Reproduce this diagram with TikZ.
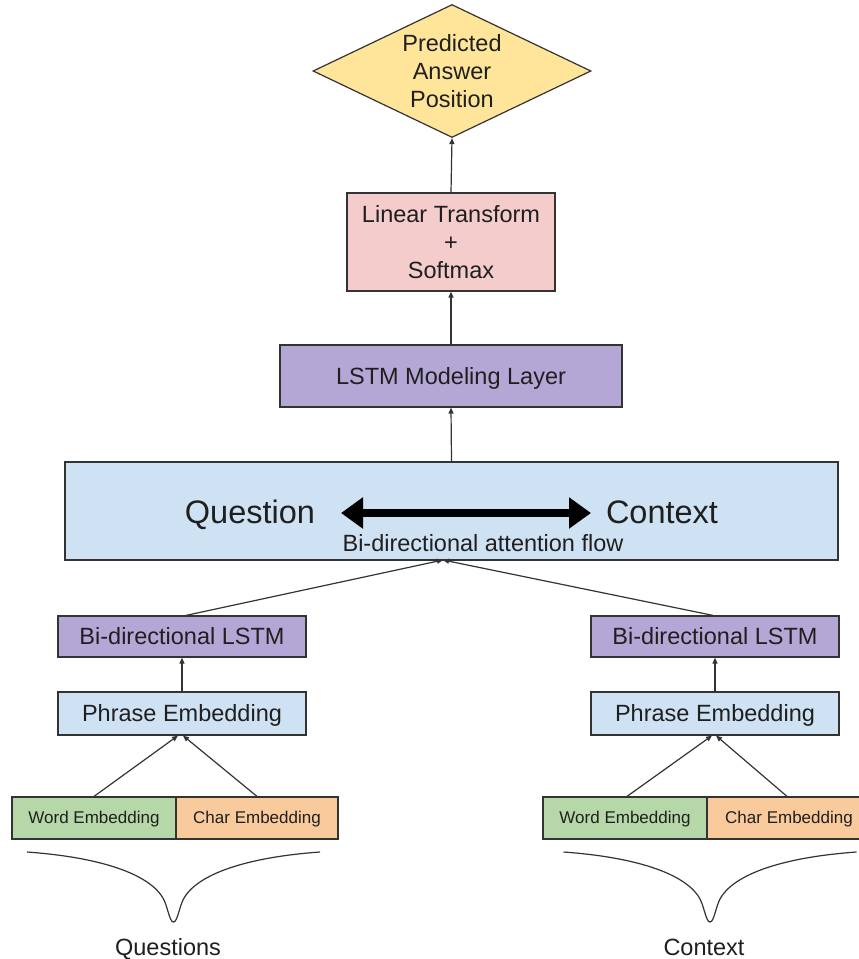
\documentclass[tikz,border=0pt]{standalone}
\usepackage{fontspec}
\setmainfont{Liberation Sans}
\usetikzlibrary{shapes.geometric,arrows.meta}
\definecolor{ink}{HTML}{1F1F1F}
\definecolor{edge}{HTML}{333333}
\definecolor{yel}{HTML}{FFE599}
\definecolor{pinkish}{HTML}{F4CCCC}
\definecolor{purp}{HTML}{B4A7D6}
\definecolor{lblue}{HTML}{CFE2F3}
\definecolor{grn}{HTML}{B6D7A8}
\definecolor{orng}{HTML}{F9CB9C}
\begin{document}
\begin{tikzpicture}[x=1pt,y=-1pt,
  box/.style={draw=edge,line width=1.2pt,inner sep=0pt,text=ink,align=center},
  mainf/.style={font=\fontsize{23.5}{28}\selectfont},
  slm/.style={mainf,text height=21.3pt,text depth=5pt},
  sls/.style={font=\fontsize{17}{20}\selectfont,text height=15.4pt,text depth=3.6pt},
  slb/.style={font=\fontsize{32.5}{38}\selectfont,text height=29.4pt,text depth=6.9pt},
  conn/.style={draw=edge,line width=1.2pt,-{Triangle[length=6pt,width=5pt]}},
  bracepath/.style={draw=edge,line width=1.2pt},
]
\clip (0,0) rectangle (859,959);
\fill[white] (0,0) rectangle (859,959);

% top column
\node[box,mainf,diamond,fill=yel,minimum width=278pt,minimum height=133pt,aspect=2.09] (pred) at (452,71) {Predicted\\Answer\\Position};
\node[box,mainf,fill=pinkish,minimum width=208pt,minimum height=98pt] (lt) at (451,242) {Linear Transform\\+\\Softmax};
\node[box,slm,fill=purp,minimum width=342pt,minimum height=62pt] (lstm) at (451,376) {LSTM Modeling Layer};
\node[box,fill=lblue,minimum width=773pt,minimum height=98pt] (att) at (451.5,511) {};
\node[slb,text=ink,inner sep=0pt] (qtext) at (250,512) {Question};
\node[slb,text=ink,inner sep=0pt] (ctext) at (662,512) {Context};
\node[slm,text=ink,inner sep=0pt] (bidaf) at (483,543) {Bi-directional attention flow};
\coordinate (al) at (341,513);
\coordinate (ar) at (591,513);
\draw[black,line width=8pt,{Triangle[length=22pt,width=30pt]}-{Triangle[length=22pt,width=30pt]}] (al) -- (ar);

% left branch
\node[box,slm,fill=purp,minimum width=248pt,minimum height=41pt] (bl1) at (182,636.5) {Bi-directional LSTM};
\node[box,slm,fill=lblue,minimum width=248pt,minimum height=43pt] (pe1) at (182,713.5) {Phrase Embedding};
\node[box,sls,fill=grn,minimum width=164pt,minimum height=42pt] (we1) at (94,818) {Word Embedding};
\node[box,sls,fill=orng,minimum width=162pt,minimum height=42pt] (ce1) at (257,818) {Char Embedding};
\node[slm,text=ink,inner sep=0pt] (qlab) at (168,947.5) {Questions};

% right branch
\node[box,slm,fill=purp,minimum width=248pt,minimum height=41pt] (bl2) at (715,636.5) {Bi-directional LSTM};
\node[box,slm,fill=lblue,minimum width=248pt,minimum height=43pt] (pe2) at (715,713.5) {Phrase Embedding};
\node[box,sls,fill=grn,minimum width=164pt,minimum height=42pt] (we2) at (625,818) {Word Embedding};
\node[box,sls,fill=orng,minimum width=164pt,minimum height=42pt] (ce2) at (789,818) {Char Embedding};
\node[slm,text=ink,inner sep=0pt] (clab) at (704,947.5) {Context};

% connectors
\draw[conn] (lt.north) -- (pred.south);
\draw[conn] (lstm.north) -- (lt.south);
\draw[conn] (att.north) -- (lstm.south);
\coordinate (apex) at (443,560);
\draw[conn] ([xshift=4pt]bl1.north) -- (apex);
\draw[conn] ([xshift=-2pt]bl2.north) -- (apex);
\draw[conn] (pe1.north) -- (bl1.south);
\draw[conn] (pe2.north) -- (bl2.south);
\draw[conn] (we1.north) -- ([xshift=-4pt]pe1.south);
\draw[conn] (ce1.north) -- ([xshift=1pt]pe1.south);
\draw[conn] ([xshift=2pt]we2.north) -- ([xshift=-3pt]pe2.south);
\draw[conn] ([xshift=-2pt]ce2.north) -- ([xshift=1pt]pe2.south);

% braces
\foreach \dx in {0,536.5}{
  \draw[bracepath,xshift=\dx pt] (27,852) .. controls (110,858) and (158,878) .. (166,905)
     .. controls (170,918) and (171,922) .. (173.5,922)
     .. controls (176,922) and (177,918) .. (181,905)
     .. controls (189,878) and (237,858) .. (320,852);
}
\end{tikzpicture}
\end{document}
